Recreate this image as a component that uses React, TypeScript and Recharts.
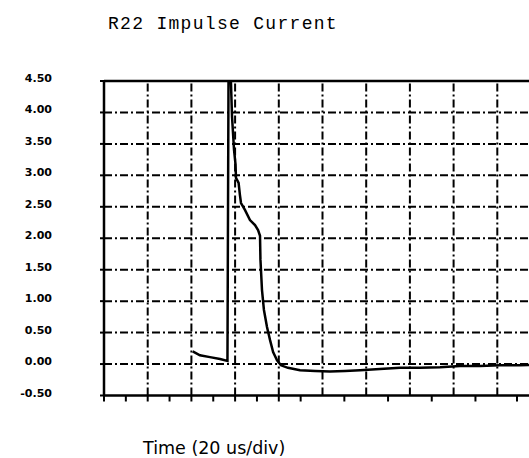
import { LineChart, Line, XAxis, YAxis, ReferenceLine } from 'recharts';

// scope trace (time in us, current in kA-ish units)
const timeUs = [
  40.6, 43.9, 48.5, 53.1, 56.5, 57.0, 57.9, 58.6, 59.5, 60.2, 60.4, 61.6, 62.2, 62.7,
  64.5, 66.8, 69.1, 70.5, 71.4, 71.6, 72.3, 73.2, 74.6, 76.0, 77.4, 79.2, 81.0, 84.2,
  89.7, 96.6, 103.4, 110.3, 117.2, 126.3, 135.5, 144.6, 153.8, 162.9, 172.1, 181.2,
  190.4, 200,
];
const current = [
  0.2, 0.14, 0.11, 0.08, 0.05, 4.7, 4.7, 3.93, 3.41, 3.17, 2.96, 2.88, 2.69, 2.56,
  2.45, 2.29, 2.21, 2.13, 2.04, 1.66, 1.18, 0.86, 0.59, 0.38, 0.19, 0.06, -0.02, -0.06,
  -0.1, -0.11, -0.12, -0.11, -0.1, -0.08, -0.06, -0.06, -0.05, -0.03, -0.03, -0.02,
  -0.02, -0.01,
];

const yTicks = [
  -0.5, -0.25, 0, 0.25, 0.5, 0.75, 1, 1.25, 1.5, 1.75, 2, 2.25, 2.5, 2.75, 3, 3.25, 3.5,
  3.75, 4, 4.25, 4.5,
];
const yLabels = ['-0.50', '0.00', '0.50', '1.00', '1.50', '2.00', '2.50', '3.00', '3.50', '4.00', '4.50'];
const yGrid = [0, 0.5, 1, 1.5, 2, 2.5, 3, 3.5, 4];
const xTicks = [0, 10, 20, 30, 40, 50, 60, 70, 80, 90, 100, 110, 120, 130, 140, 150, 160, 170, 180, 190, 200];
const xGrid = [20, 40, 60, 80, 100, 120, 140, 160, 180];

const data = timeUs.map((t, i) => ({ t, v: current[i] }));

const DASH = '8 3 2 3';

function YTick(props: any) {
  const { x, y, payload } = props;
  const label = yLabels.find((l) => Math.abs(parseFloat(l) - payload.value) < 1e-6);
  return (
    <g>
      <line x1={x - 4} x2={x} y1={y} y2={y} stroke="#000" strokeWidth={2} />
      {label && (
        <text
          x={x - 52}
          y={y + 1}
          textAnchor="end"
          fontFamily="DejaVu Sans"
          fontWeight="bold"
          fontSize={11}
          fill="#000"
        >
          {label}
        </text>
      )}
    </g>
  );
}

function XTick(props: any) {
  const { x, y } = props;
  return <line x1={x} x2={x} y1={y} y2={y + 6} stroke="#000" strokeWidth={2} />;
}

export default function App() {
  return (
    <div style={{ position: 'absolute', left: 0, top: 0, width: 529, height: 458, background: '#fff' }}>
      <LineChart width={529} height={458} data={data} margin={{ top: 81, right: -12, bottom: 0, left: 0 }}>
        <XAxis
          dataKey="t"
          type="number"
          domain={[0, 200]}
          ticks={xTicks}
          height={62.5}
          tickSize={0}
          tickMargin={0}
          tickLine={false}
          tick={<XTick />}
          axisLine={{ stroke: '#000', strokeWidth: 2.5 }}
        />
        <YAxis
          type="number"
          domain={[-0.5, 4.5]}
          allowDataOverflow
          ticks={yTicks}
          width={104}
          tickSize={0}
          tickMargin={0}
          tickLine={false}
          tick={<YTick />}
          axisLine={{ stroke: '#000', strokeWidth: 2.5 }}
        />
        {yGrid.map((v) => (
          <ReferenceLine key={'h' + v} y={v} stroke="#000" strokeWidth={2} strokeDasharray={DASH} />
        ))}
        {xGrid.map((v) => (
          <ReferenceLine key={'v' + v} x={v} stroke="#000" strokeWidth={2} strokeDasharray={DASH} />
        ))}
        <ReferenceLine y={4.5} stroke="#000" strokeWidth={2.5} />
        <Line
          dataKey="v"
          type="linear"
          stroke="#000"
          strokeWidth={2.5}
          dot={false}
          isAnimationActive={false}
        />
      </LineChart>
      <svg
        width={529}
        height={458}
        style={{ position: 'absolute', left: 0, top: 0, pointerEvents: 'none' }}
      >
        <text x={108} y={29} fontFamily="Liberation Mono" fontSize={18} letterSpacing={1.3} fill="#000">
          R22 Impulse Current
        </text>
        <text x={143} y={454} fontFamily="DejaVu Sans" fontSize={17.5} fill="#000">
          Time (20 us/div)
        </text>
      </svg>
    </div>
  );
}
